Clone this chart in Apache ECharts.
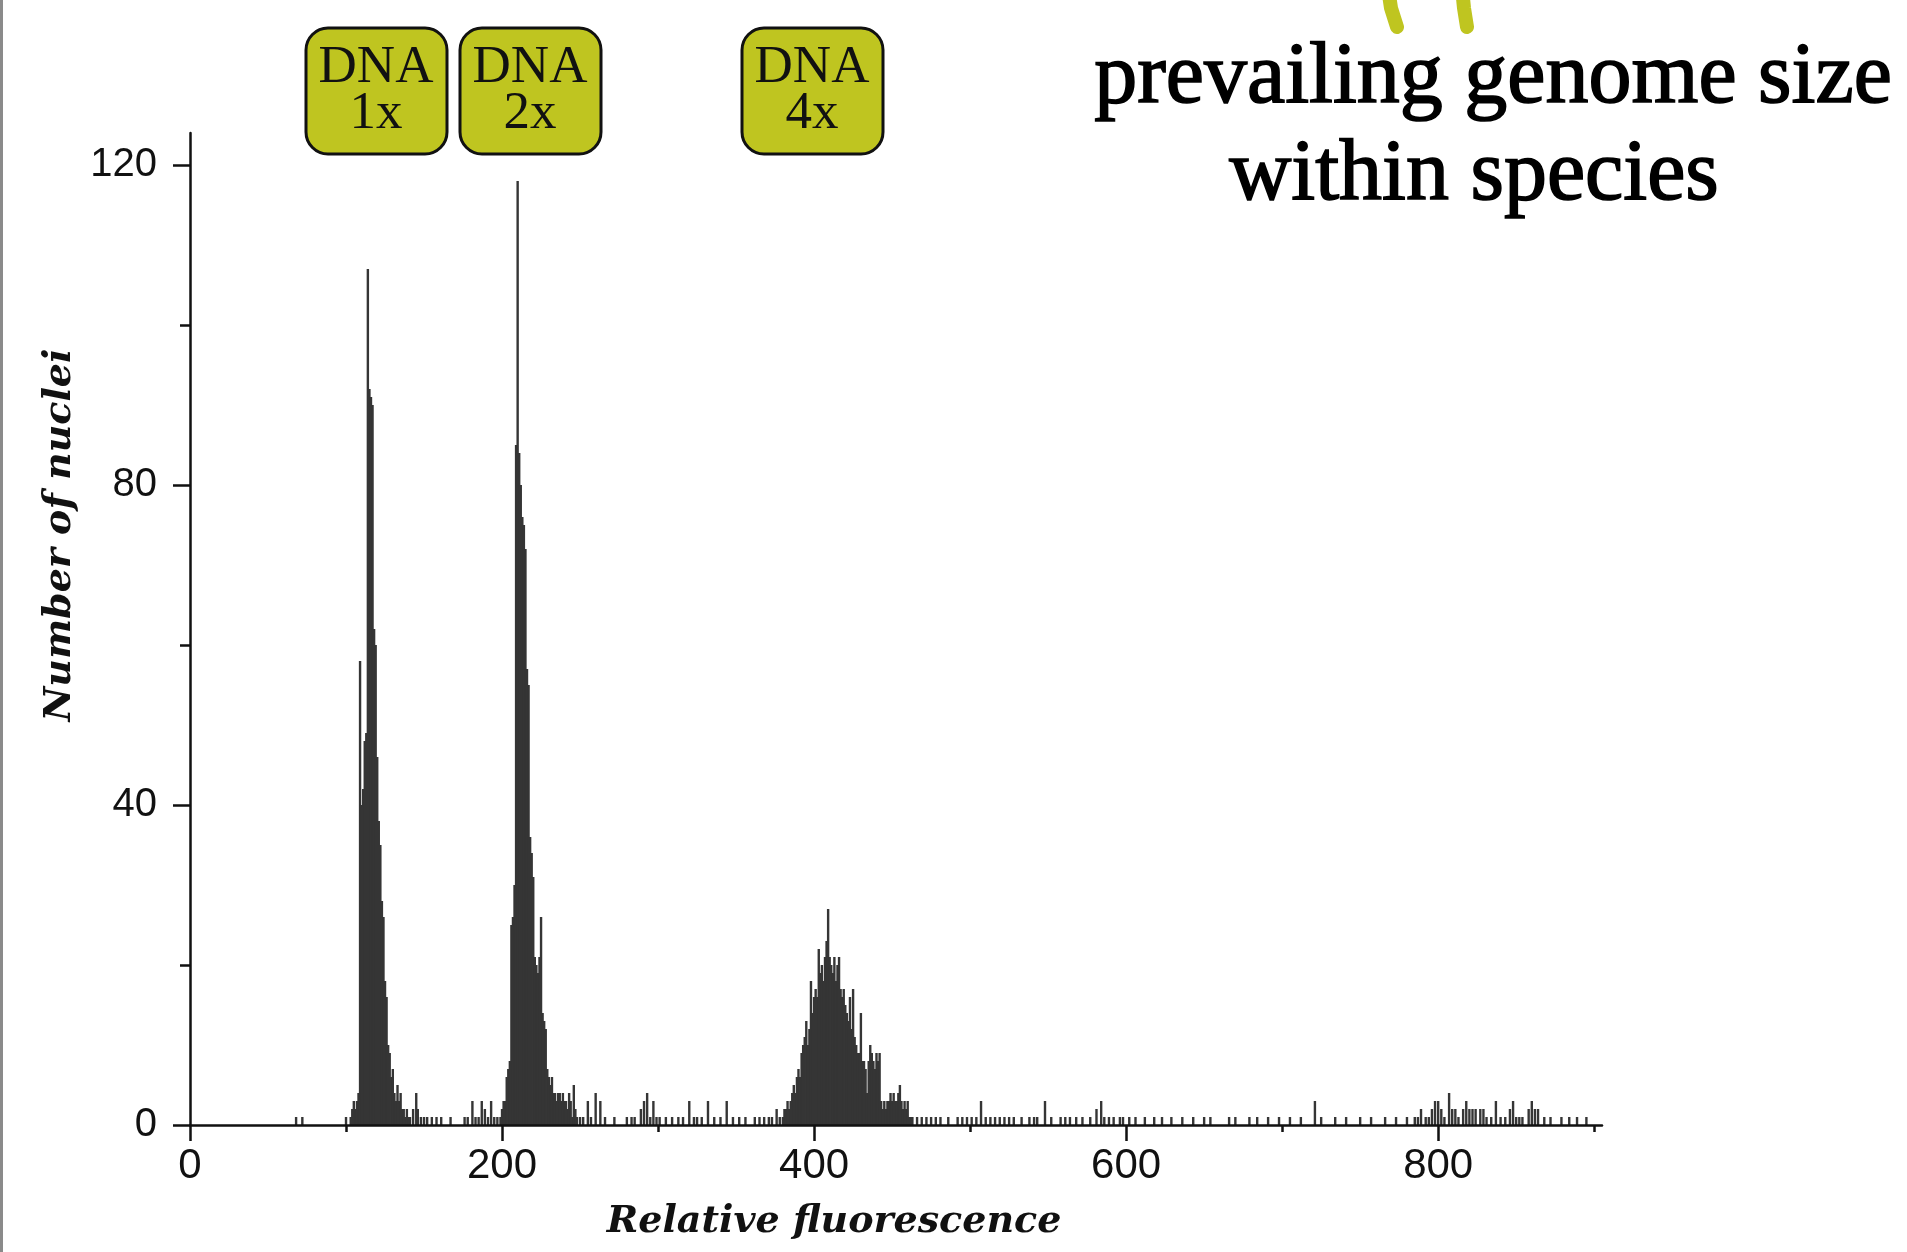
<!DOCTYPE html>
<html>
<head>
<meta charset="utf-8">
<title>Number of nuclei vs relative fluorescence</title>
<script src="https://cdn.jsdelivr.net/npm/echarts@6.0.0/dist/echarts.min.js"></script>
<style>
  html, body { margin: 0; padding: 0; background: #fff; }
  #chart { width: 1907px; height: 1252px; }
</style>
</head>
<body>
<div id="chart"></div>
<script>
// histogram, one bar per fluorescence channel
const peak1Start = 103
const peak1Counts = [1, 2, 3, 2, 3, 4, 58, 40, 42, 48, 49, 107, 92, 91, 90, 62, 60, 46, 38, 35,
  28, 26, 18, 16, 10, 9, 6, 7, 4, 3, 5, 3, 4, 2, 2, 1, 2, 1]

const peak2Start = 199
const peak2Counts = [1, 2, 3, 3, 6, 7, 8, 25, 26, 30, 85, 118, 84, 80, 76, 75, 72, 57, 55, 36,
  34, 31, 21, 20, 19, 21, 26, 14, 13, 12, 7, 6, 5, 6, 4, 4, 3, 4, 4, 3,
  4, 3, 3, 2, 4, 3, 1, 5, 2, 1]

const peak4Start = 376
const peak4Counts = [2, 0, 1, 0, 1, 2, 2, 3, 2, 3, 4, 5, 4, 6, 7, 6, 9, 10, 11, 13,
  10, 12, 18, 14, 16, 17, 16, 22, 19, 20, 18, 21, 23, 27, 21, 20, 19, 21, 18, 20,
  21, 17, 16, 17, 15, 14, 13, 16, 12, 17, 11, 10, 9, 9, 14, 8, 8, 7, 4, 8,
  10, 9, 8, 7, 9, 8, 9, 3, 2, 3, 2, 3, 3, 4, 3, 4, 3, 3, 4, 5,
  3, 2, 3, 2, 3, 1, 1]

// scattered background counts between the peaks
const noiseChannels = [68, 72, 100,
  141, 143, 145, 146, 148, 150, 152, 155, 158, 161, 167, 176, 178, 181, 183, 185, 187, 189, 191, 193, 195, 197,
  250, 252, 255, 257, 260, 263, 266, 272, 280, 283, 285, 289, 291, 293, 295, 297, 299, 301, 305, 309, 313, 316,
  320, 323, 325, 328, 332, 336, 340, 344, 348, 352, 356, 362, 365, 368, 371, 373,
  463, 466, 469, 472, 475, 478, 481, 486, 492, 495, 498, 501, 504, 507, 510, 513, 516, 519, 522, 525, 528, 533,
  538, 541, 543, 548, 552, 558, 561, 564, 568, 572, 577, 581, 584, 586, 589, 592, 596, 598, 602, 606, 612, 618,
  623, 629, 636, 643, 650, 654, 666, 670, 679, 684, 691, 698, 705, 712, 721, 725, 734, 741, 750, 757, 766, 773,
  780, 785, 787, 789, 792, 794, 796, 798, 800, 802, 804, 807, 809, 811, 813, 816, 818, 820, 822, 824, 827, 829,
  831, 834, 837, 840, 843, 846, 848, 850, 852, 854, 858, 860, 862, 864, 868, 872, 879, 884, 889, 895]
const noiseCounts = [1, 1, 1,
  1, 2, 4, 2, 1, 1, 1, 1, 1, 1, 1, 1, 1, 3, 1, 1, 3, 2, 1, 3, 1, 1,
  1, 1, 3, 1, 4, 3, 1, 1, 1, 1, 1, 2, 3, 4, 1, 3, 1, 1, 1, 1, 1, 1,
  3, 1, 1, 1, 3, 1, 1, 3, 1, 1, 1, 1, 1, 1, 1, 1,
  1, 1, 1, 1, 1, 1, 1, 1, 1, 1, 1, 1, 1, 3, 1, 1, 1, 1, 1, 1, 1, 1,
  1, 1, 1, 3, 1, 1, 1, 1, 1, 1, 1, 2, 3, 1, 1, 1, 1, 1, 1, 1, 1, 1,
  1, 1, 1, 1, 1, 1, 1, 1, 1, 1, 1, 1, 1, 1, 3, 1, 1, 1, 1, 1, 1, 1,
  1, 1, 1, 2, 1, 1, 2, 3, 3, 2, 1, 4, 2, 2, 1, 2, 3, 2, 2, 2, 2, 2,
  1, 1, 3, 1, 1, 2, 3, 1, 1, 1, 2, 3, 2, 2, 1, 1, 1, 1, 1, 1]

const xLabelTicks = [0, 200, 400, 600, 800]
const xMinorTicks = [100, 300, 500, 700, 900]
const yLabelTicks = [0, 40, 80, 120]
const yMinorTicks = [20, 60, 100]

const dnaLabels = ['DNA\n1x', 'DNA\n2x', 'DNA\n4x']
const titleLines = ['prevailing genome size', 'within species']

const X_MAX = 905
const Y_MAX = 124
const INK = '#111'
const BADGE = '#bfc520'

function peakPairs(start, counts) {
  return counts.map((c, i) => [start + i, c])
}

const histData = [
  ...noiseChannels.map((ch, i) => [ch, noiseCounts[i]]),
  ...peakPairs(peak1Start, peak1Counts),
  ...peakPairs(peak2Start, peak2Counts),
  ...peakPairs(peak4Start, peak4Counts),
]

const gridBox = { left: 190, right: 305, top: 133, bottom: 127 }
const tickFont = '"Liberation Sans", Arial, sans-serif'
const nameStyle = {
  fontFamily: '"DejaVu Serif", serif',
  fontStyle: 'italic',
  fontWeight: 'bold',
  fontSize: 38,
  color: INK,
}

const badgeCenters = [376, 530, 812]
const badges = dnaLabels.map((label, i) => ({
  type: 'group',
  x: badgeCenters[i],
  y: 91,
  children: [
    {
      type: 'rect',
      shape: { x: -70, y: -63, width: 141, height: 126, r: 22 },
      style: { fill: BADGE, stroke: INK, lineWidth: 3 },
    },
    {
      type: 'text',
      style: {
        text: label,
        x: 0,
        y: 0,
        align: 'center',
        verticalAlign: 'middle',
        font: '53px "Liberation Serif", serif',
        lineHeight: 46,
        fill: INK,
      },
    },
  ],
}))

const option = {
  animation: false,
  backgroundColor: '#fff',
  grid: [
    { ...gridBox },
    { ...gridBox },
  ],
  xAxis: [
    {
      type: 'value',
      gridIndex: 0,
      min: 0,
      max: X_MAX,
      interval: 200,
      z: 5,
      axisLine: { show: true, onZero: false, lineStyle: { color: INK, width: 2.5 } },
      axisTick: { show: true, customValues: xLabelTicks, length: 16, lineStyle: { color: INK, width: 2.5 } },
      axisLabel: { customValues: xLabelTicks, margin: 20, color: INK, fontFamily: tickFont, fontSize: 42 },
      splitLine: { show: false },
      name: 'Relative fluorescence',
      nameLocation: 'middle',
      nameGap: 78,
      nameTextStyle: { ...nameStyle, padding: [0, 124, 0, 0] },
    },
    {
      type: 'value',
      gridIndex: 1,
      min: 0,
      max: X_MAX,
      axisLine: { show: false },
      axisTick: { show: true, customValues: xMinorTicks, length: 7, lineStyle: { color: INK, width: 2.5 } },
      axisLabel: { show: false },
      splitLine: { show: false },
    },
  ],
  yAxis: [
    {
      type: 'value',
      gridIndex: 0,
      min: 0,
      max: Y_MAX,
      interval: 40,
      z: 5,
      axisLine: { show: true, onZero: false, lineStyle: { color: INK, width: 2.5 } },
      axisTick: { show: true, customValues: yLabelTicks, length: 17, lineStyle: { color: INK, width: 2.5 } },
      axisLabel: { customValues: yLabelTicks, margin: 33, color: INK, fontFamily: tickFont, fontSize: 40 },
      splitLine: { show: false },
      name: 'Number of nuclei',
      nameLocation: 'middle',
      nameGap: 106,
      nameTextStyle: { ...nameStyle, padding: [0, 0, 0, 188] },
    },
    {
      type: 'value',
      gridIndex: 1,
      min: 0,
      max: Y_MAX,
      axisLine: { show: false },
      axisTick: { show: true, customValues: yMinorTicks, length: 10, lineStyle: { color: INK, width: 2.5 } },
      axisLabel: { show: false },
      splitLine: { show: false },
    },
  ],
  series: [
    {
      type: 'bar',
      xAxisIndex: 0,
      yAxisIndex: 0,
      data: histData,
      barWidth: 2.4,
      itemStyle: { color: '#353535' },
      silent: true,
    },
  ],
  graphic: [
    // slide edge on the left
    { type: 'rect', shape: { x: 0, y: 0, width: 3, height: 1252 }, style: { fill: '#8a8a8a' } },
    // green marks peeking in from above
    {
      type: 'polyline',
      shape: { points: [[1388, -12], [1391, 8], [1397, 27]] },
      style: { stroke: BADGE, lineWidth: 14, lineCap: 'round', lineJoin: 'round', fill: null },
    },
    {
      type: 'polyline',
      shape: { points: [[1462, -12], [1464, 8], [1467, 27]] },
      style: { stroke: BADGE, lineWidth: 14, lineCap: 'round', lineJoin: 'round', fill: null },
    },
    ...badges,
    {
      type: 'text',
      style: {
        text: titleLines[0], x: 1493, y: 79, align: 'center', verticalAlign: 'middle',
        font: '86px "Liberation Serif", serif', fill: '#000', stroke: '#000', lineWidth: 1.6,
      },
    },
    {
      type: 'text',
      style: {
        text: titleLines[1], x: 1474, y: 176, align: 'center', verticalAlign: 'middle',
        font: '86px "Liberation Serif", serif', fill: '#000', stroke: '#000', lineWidth: 1.6,
      },
    },
  ],
}

const chart = echarts.init(document.getElementById('chart'), null, { renderer: 'canvas' })
chart.setOption(option)
window.addEventListener('resize', () => chart.resize())
</script>
</body>
</html>
